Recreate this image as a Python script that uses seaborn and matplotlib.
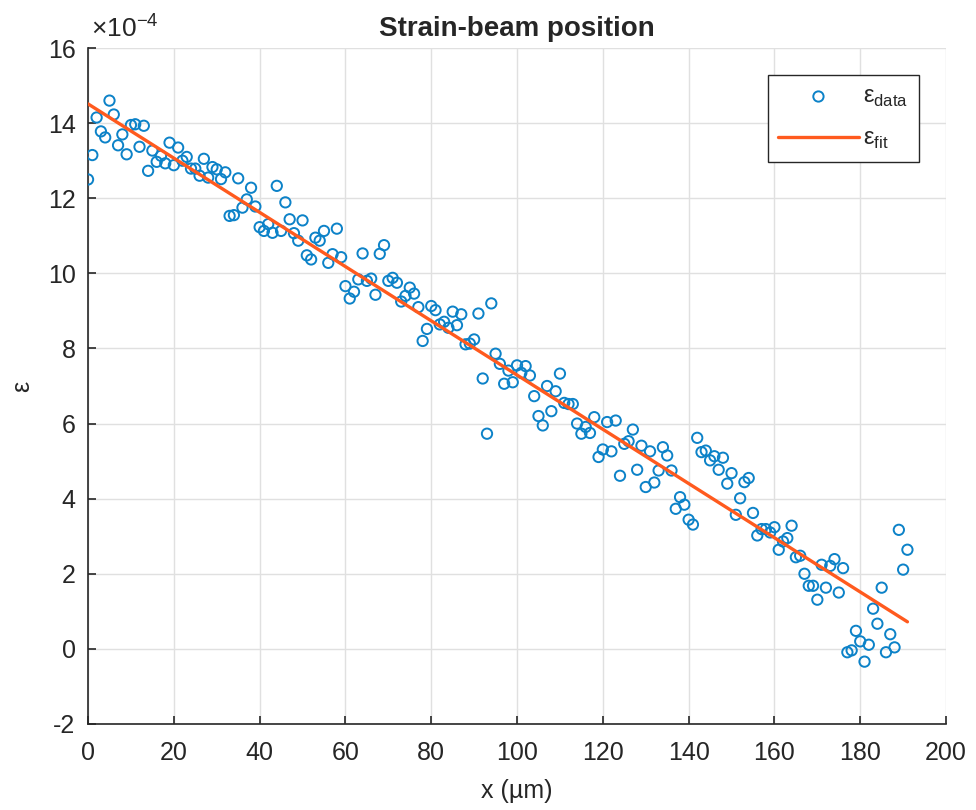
import numpy as np
import pandas as pd
import matplotlib
matplotlib.use("Agg")
import matplotlib.pyplot as plt
import seaborn as sns

# strain values in units of 1e-4, one per micron position
x_pos = list(range(0, 192))
strain = [
    12.5, 13.15, 14.15, 13.78, 13.62, 14.6, 14.23, 13.41, 13.7, 13.17,
    13.95, 13.97, 13.37, 13.93, 12.73, 13.27, 12.97, 13.13, 12.93, 13.48,
    12.88, 13.35, 13.0, 13.1, 12.79, 12.79, 12.6, 13.05, 12.55, 12.83,
    12.77, 12.51, 12.69, 11.53, 11.55, 12.53, 11.75, 11.97, 12.28, 11.78,
    11.23, 11.13, 11.31, 11.08, 12.33, 11.13, 11.89, 11.44, 11.07, 10.87,
    11.41, 10.48, 10.37, 10.95, 10.87, 11.13, 10.28, 10.51, 11.19, 10.43,
    9.66, 9.33, 9.51, 9.84, 10.53, 9.8, 9.86, 9.43, 10.52, 10.75,
    9.8, 9.88, 9.75, 9.25, 9.4, 9.62, 9.46, 9.1, 8.2, 8.52,
    9.13, 9.02, 8.64, 8.71, 8.55, 8.98, 8.62, 8.91, 8.11, 8.13,
    8.24, 8.93, 7.2, 5.73, 9.2, 7.86, 7.59, 7.06, 7.41, 7.1,
    7.55, 7.35, 7.53, 7.28, 6.73, 6.2, 5.95, 7.0, 6.33, 6.86,
    7.33, 6.55, 6.52, 6.52, 6.0, 5.73, 5.91, 5.75, 6.17, 5.11,
    5.31, 6.04, 5.26, 6.08, 4.61, 5.46, 5.53, 5.84, 4.77, 5.41,
    4.31, 5.26, 4.43, 4.75, 5.37, 5.15, 4.75, 3.73, 4.04, 3.84,
    3.44, 3.31, 5.62, 5.24, 5.28, 5.02, 5.13, 4.77, 5.09, 4.4,
    4.68, 3.57, 4.01, 4.44, 4.55, 3.62, 3.02, 3.19, 3.19, 3.1,
    3.24, 2.64, 2.86, 2.95, 3.28, 2.44, 2.48, 2.0, 1.68, 1.68,
    1.31, 2.24, 1.63, 2.21, 2.39, 1.5, 2.15, -0.09, -0.04, 0.48,
    0.2, -0.34, 0.11, 1.07, 0.67, 1.63, -0.09, 0.39, 0.04, 3.17,
    2.11, 2.64,
]
x_ticks = [0, 20, 40, 60, 80, 100, 120, 140, 160, 180, 200]
y_ticks = [-2, 0, 2, 4, 6, 8, 10, 12, 14, 16]

df = pd.DataFrame({"x": x_pos, "eps": strain})
slope, intercept = np.polyfit(df["x"], df["eps"], 1)
df["fit"] = intercept + slope * df["x"]

sns.set_style("whitegrid")
plt.rcParams["font.family"] = ["Liberation Sans", "DejaVu Sans"]
plt.rcParams["mathtext.fontset"] = "custom"
plt.rcParams["mathtext.rm"] = "Liberation Sans"
plt.rcParams["axes.unicode_minus"] = False

fig = plt.figure(figsize=(9.76, 8.10), dpi=100)
ax = fig.add_axes([0.0902, 0.1062, 0.8791, 0.8345])

sns.scatterplot(data=df, x="x", y="eps", ax=ax, marker="o",
                facecolors="none", edgecolor="#0C82C8", linewidth=1.4,
                s=55, label=r"ε$_{\mathrm{data}}$", zorder=3)
sns.lineplot(data=df, x="x", y="fit", ax=ax, color="#FF5A1E", linewidth=2.4,
             label=r"ε$_{\mathrm{fit}}$", zorder=4)

ax.set_xlim(0, 200)
ax.set_ylim(-2, 16)
ax.set_xticks(x_ticks)
ax.set_yticks(y_ticks)
ax.grid(True, color="#e0e0e0", linewidth=1.0)
ax.tick_params(direction="in", length=6, width=1.2, colors="#262626",
               labelsize=18, left=True, bottom=True)
ax.tick_params(axis="x", pad=12)
ax.tick_params(axis="y", pad=9)
for side in ["top", "right"]:
    ax.spines[side].set_visible(False)
for side in ["left", "bottom"]:
    ax.spines[side].set_color("#262626")
    ax.spines[side].set_linewidth(1.2)

ax.set_title("Strain-beam position", fontsize=20, fontweight="bold", pad=9)
ax.set_xlabel("x (µm)", fontsize=18, color="#262626", labelpad=10)
ax.set_ylabel("ε", fontsize=18, color="#262626", labelpad=10)
ax.text(0.003, 1.01, r"$\times 10^{-4}$", transform=ax.transAxes,
        fontsize=19, color="#262626", ha="left", va="bottom")

leg = ax.legend(loc="upper right", bbox_to_anchor=(0.9685, 0.96),
                borderaxespad=0, fontsize=17, frameon=True, fancybox=False,
                framealpha=1, edgecolor="#262626", handlelength=3.4,
                handletextpad=0.2, labelspacing=0.8, borderpad=0.45)
leg.get_frame().set_linewidth(1.0)

fig.savefig("out.png", dpi=100)
